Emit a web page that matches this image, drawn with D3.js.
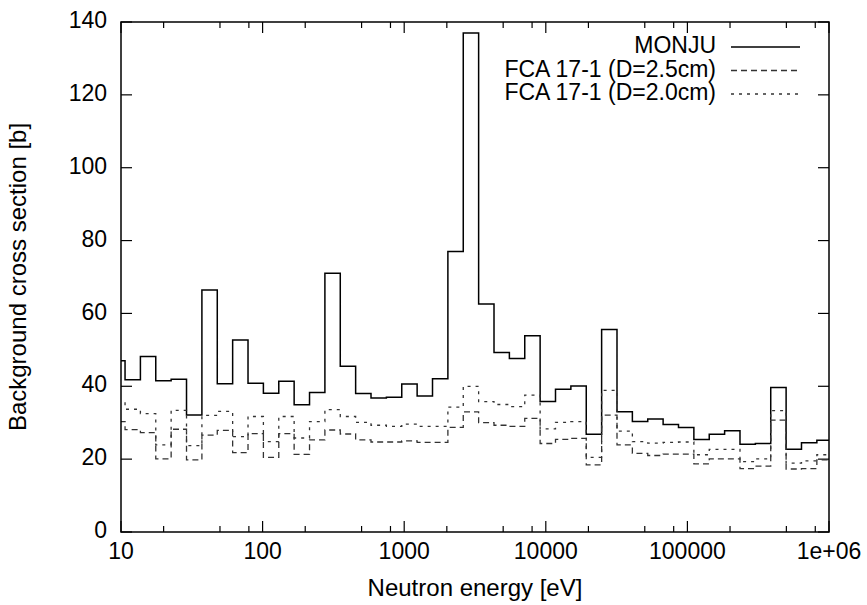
<!DOCTYPE html>
<html>
<head>
<meta charset="utf-8">
<script src="https://cdn.jsdelivr.net/npm/d3@7"></script>
<style>
  body { margin: 0; background: #fff; }
  text { font-family: 'Liberation Sans', Arial, Helvetica, sans-serif; fill: #000; }
</style>
</head>
<body>
<div id="chart"></div>
<script>
// energy group boundaries [eV] (lethargy width 0.25), ascending
const groupBounds = [8.315, 10.68, 13.71, 17.60, 22.60, 29.02, 37.27, 47.85, 61.44, 78.89,
  101.3, 130.1, 167.0, 214.5, 275.4, 353.6, 454.0, 582.9, 748.5, 961.1,
  1234.1, 1584.6, 2034.7, 2612.6, 3354.6, 4307.4, 5530.8, 7101.7, 9118.8, 11709,
  15034, 19305, 24788, 31828, 40868, 52475, 67379, 86517, 111090, 142642,
  183156, 235177, 301974, 387742, 497871, 639279, 820850, 1053992]

const monju = [47, 41.8, 48.2, 41.5, 41.9, 32.1, 66.4, 40.7, 52.7, 40.8,
  38.1, 41.4, 34.9, 38.3, 71, 45.5, 38.0, 36.8, 37.0, 40.6,
  37.3, 42.1, 77, 137, 62.6, 49.3, 47.6, 53.9, 35.8, 39.2,
  40.1, 26.8, 55.6, 33.0, 30.3, 31.0, 29.5, 28.7, 25.4, 26.8,
  27.8, 24.1, 24.3, 39.7, 22.7, 24.5, 25.2]

const fca25 = [30.3, 28.1, 27.3, 20.1, 28.2, 19.8, 26.6, 27.9, 21.8, 27.0,
  20.5, 27.0, 21.3, 25.3, 28.0, 26.9, 25.3, 24.7, 24.7, 25.0,
  24.6, 24.6, 28.7, 33.0, 30.0, 29.3, 29.0, 31.2, 24.3, 25.4,
  25.7, 18.4, 32.1, 23.9, 21.6, 21.0, 21.4, 21.4, 18.7, 20.1,
  20.1, 17.4, 18.1, 30.7, 17.3, 17.4, 19.8]

const fca20 = [35.8, 33.7, 32.5, 23.9, 33.4, 23.7, 32.0, 33.1, 26.2, 31.7,
  24.8, 31.7, 25.8, 30.3, 33.6, 31.7, 30.1, 29.3, 29.0, 29.6,
  29.0, 29.0, 34.3, 40.0, 35.8, 35.0, 34.4, 37.6, 28.3, 30.1,
  30.3, 20.5, 38.9, 27.7, 24.8, 24.4, 24.6, 24.7, 21.2, 22.7,
  22.7, 19.3, 20.1, 33.3, 18.9, 19.5, 21.2]

const seriesNames = ['MONJU', 'FCA 17-1 (D=2.5cm)', 'FCA 17-1 (D=2.0cm)']
const xTickValues = [10, 100, 1000, 10000, 100000, 1000000]
const xTickLabels = ['10', '100', '1000', '10000', '100000', '1e+06']
const xMinorSteps = [2, 5, 8]
const yTickValues = [0, 20, 40, 60, 80, 100, 120, 140]

const margin = { top: 22, left: 121, right: 38, bottom: 73 }
const width = 867 - margin.left - margin.right
const height = 605 - margin.top - margin.bottom

const svg = d3
  .select('#chart')
  .append('svg')
  .attr('width', 867)
  .attr('height', 605)

const g = svg.append('g')
  .attr('transform', 'translate(' + margin.left + ',' + margin.top + ')')

const x = d3.scaleLog().domain([10, 1e6]).range([0, width])
const y = d3.scaleLinear().domain([0, 140]).range([height, 0])

svg.append('defs').append('clipPath').attr('id', 'plot-clip')
  .append('rect').attr('width', width).attr('height', height)

// minor tick positions
const minorTicks = []
xTickValues.slice(0, -1).forEach(d => {
  xMinorSteps.forEach(m => minorTicks.push(d * m))
})

const major = 11
const minor = 6

// ticks (inward, mirrored)
const tickG = g.append('g').attr('stroke', '#000').attr('stroke-width', 1.2)
xTickValues.forEach(d => {
  tickG.append('line').attr('x1', x(d)).attr('x2', x(d)).attr('y1', height).attr('y2', height - major)
  tickG.append('line').attr('x1', x(d)).attr('x2', x(d)).attr('y1', 0).attr('y2', major)
})
minorTicks.forEach(d => {
  tickG.append('line').attr('x1', x(d)).attr('x2', x(d)).attr('y1', height).attr('y2', height - minor)
  tickG.append('line').attr('x1', x(d)).attr('x2', x(d)).attr('y1', 0).attr('y2', minor)
})
yTickValues.forEach(d => {
  tickG.append('line').attr('x1', 0).attr('x2', major).attr('y1', y(d)).attr('y2', y(d))
  tickG.append('line').attr('x1', width).attr('x2', width - major).attr('y1', y(d)).attr('y2', y(d))
})

// tick labels
g.selectAll('.xlab')
  .data(xTickValues)
  .enter()
  .append('text')
  .attr('x', d => x(d))
  .attr('y', height + 21)
  .attr('text-anchor', 'middle')
  .attr('dominant-baseline', 'middle')
  .style('font-size', '23px')
  .text((d, i) => xTickLabels[i])

g.selectAll('.ylab')
  .data(yTickValues)
  .enter()
  .append('text')
  .attr('x', -14)
  .attr('y', d => y(d))
  .attr('text-anchor', 'end')
  .attr('dominant-baseline', 'middle')
  .style('font-size', '23px')
  .text(d => d)

// step lines
const line = d3.line()
  .x(d => x(d[0]))
  .y(d => y(d[1]))
  .curve(d3.curveStepAfter)

function stepPoints(values) {
  const pts = values.map((v, i) => [groupBounds[i], v])
  pts.push([groupBounds[values.length], values[values.length - 1]])
  return pts
}

const styles = [
  { data: monju, dash: null, w: 1.5, color: '#000' },
  { data: fca25, dash: '6,4', w: 1.3, color: '#333' },
  { data: fca20, dash: '3,5', w: 1.3, color: '#333' }
]

const plot = g.append('g').attr('clip-path', 'url(#plot-clip)')
styles.forEach(s => {
  plot.append('path')
    .attr('d', line(stepPoints(s.data)))
    .attr('fill', 'none')
    .attr('stroke', s.color)
    .attr('stroke-width', s.w)
    .attr('stroke-dasharray', s.dash)
})

// legend
const legend = g.append('g')
styles.forEach((s, i) => {
  const ly = 25 + i * 23.5
  legend.append('text')
    .attr('x', 716 - margin.left)
    .attr('y', ly)
    .attr('text-anchor', 'end')
    .attr('dominant-baseline', 'middle')
    .style('font-size', '23px')
    .text(seriesNames[i])
  legend.append('line')
    .attr('x1', 731 - margin.left)
    .attr('x2', 800 - margin.left)
    .attr('y1', ly)
    .attr('y2', ly)
    .attr('stroke', s.color)
    .attr('stroke-width', s.w)
    .attr('stroke-dasharray', s.dash)
})

// border
g.append('rect')
  .attr('width', width)
  .attr('height', height)
  .attr('fill', 'none')
  .attr('stroke', '#000')
  .attr('stroke-width', 1.5)

// axis titles
svg.append('text')
  .attr('x', margin.left + width / 2)
  .attr('y', 590)
  .attr('text-anchor', 'middle')
  .attr('dominant-baseline', 'middle')
  .style('font-size', '24px')
  .text('Neutron energy [eV]')

svg.append('text')
  .attr('transform', 'translate(20,' + (margin.top + height / 2) + ') rotate(-90)')
  .attr('text-anchor', 'middle')
  .attr('dominant-baseline', 'middle')
  .style('font-size', '24px')
  .text('Background cross section [b]')
</script>
</body>
</html>
